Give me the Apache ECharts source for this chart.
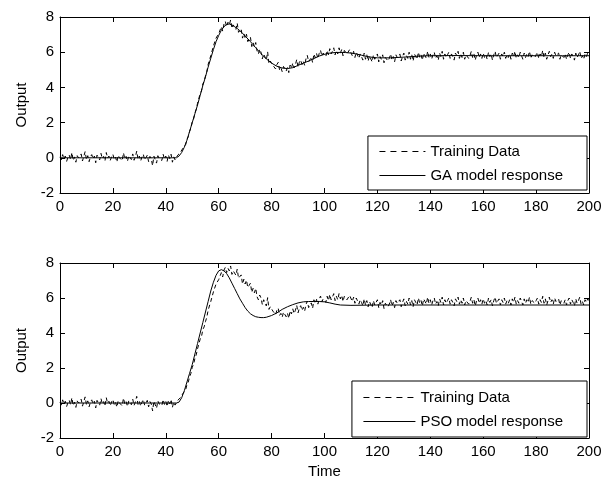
<!DOCTYPE html>
<html>
<head>
<meta charset="utf-8">
<script src="https://cdn.jsdelivr.net/npm/echarts@6/dist/echarts.min.js"></script>
<style>
html,body{margin:0;padding:0;background:#fff;}
#chart{width:613px;height:482px;}
</style>
</head>
<body>
<div id="chart"></div>
<script>
// Training data sampled every 0.5 time units, t = 0 .. 200
var trainStep = 0.5;
var trainData = [
0.05,-0.12,0.18,-0.05,0.10,-0.20,0.02,0.15,-0.10,0.30,-0.15,0.05,-0.25,0.12,0.00,-0.08,0.22,-0.18,0.08,0.35,
-0.10,0.12,-0.22,0.05,0.18,-0.06,0.10,-0.28,0.15,0.02,-0.12,0.25,-0.05,0.08,-0.18,0.30,-0.02,0.10,-0.15,0.06,
0.20,-0.10,0.04,-0.24,0.14,0.00,0.10,-0.16,0.28,-0.06,0.08,-0.20,0.12,0.02,-0.10,0.22,-0.14,0.06,0.38,-0.08,
0.10,-0.18,0.05,0.20,-0.12,0.00,0.15,-0.22,0.08,-0.05,-0.45,0.10,0.02,-0.30,0.12,-0.05,0.05,-0.15,0.20,-0.08,
0.10,-0.20,0.15,-0.05,0.20,-0.25,0.05,-0.12,-0.05,0.15,0.08,0.30,0.25,0.55,0.60,0.75,1.05,1.20,1.50,1.70,
2.05,2.20,2.55,2.75,3.10,3.20,3.65,3.80,4.20,4.35,4.65,4.90,5.30,5.35,5.80,5.90,6.35,6.35,6.80,6.80,
7.05,7.05,7.45,7.20,7.60,7.75,7.45,7.70,7.55,7.83,7.35,7.55,7.60,7.30,7.65,7.13,7.20,7.32,6.80,7.07,
6.80,7.02,6.60,6.72,6.85,6.32,6.55,6.30,6.55,6.07,5.90,6.17,6.00,5.62,5.90,5.92,5.55,6.02,5.35,5.50,
5.55,5.25,5.35,5.05,5.30,5.42,5.00,5.12,4.90,5.19,5.28,4.93,5.13,4.84,5.27,5.09,5.38,5.11,5.30,5.58,
5.15,5.43,5.56,5.29,5.47,5.25,5.63,5.82,5.45,5.58,5.72,5.41,5.90,5.68,5.92,5.65,5.93,6.11,5.78,5.95,
5.95,5.75,6.10,5.85,6.20,5.90,6.05,6.25,5.85,6.10,5.90,6.25,5.95,6.15,5.80,6.10,6.00,5.90,5.85,6.15,
6.10,5.80,6.05,5.70,6.00,5.95,5.65,5.90,5.75,5.55,5.95,5.60,5.85,5.50,5.80,5.70,5.45,5.85,5.60,5.75,
5.90,5.45,5.75,5.60,5.85,5.40,5.70,5.80,5.50,5.65,5.90,5.55,5.75,5.45,5.85,5.70,5.60,5.90,5.50,5.75,
5.95,5.55,5.80,5.65,6.00,5.60,5.85,5.50,5.90,5.75,5.60,6.00,5.70,5.85,5.55,5.95,5.80,5.65,6.05,5.70,
5.90,5.60,5.85,6.00,5.65,5.80,5.55,5.95,5.75,6.05,5.60,5.90,5.70,5.85,6.00,5.65,5.90,5.75,5.55,5.95,
5.80,6.05,5.65,5.90,5.70,6.00,5.60,5.85,5.95,5.65,5.80,6.05,5.70,5.90,5.55,5.85,6.00,5.70,5.90,5.65,
5.95,5.70,5.85,5.60,6.00,5.75,5.90,5.55,5.85,6.05,5.70,5.80,5.95,5.60,5.90,5.75,6.00,5.65,5.85,5.70,
5.90,5.60,5.95,5.75,6.05,5.65,5.85,5.70,6.00,5.80,5.60,5.95,5.70,5.90,5.75,6.05,5.65,5.85,5.95,5.70,
5.85,6.00,5.65,5.90,5.75,6.10,5.70,5.95,5.60,5.85,6.05,5.75,5.90,5.65,6.00,5.80,5.70,5.95,5.60,5.85,
5.95,5.70,5.90,5.60,5.85,6.00,5.65,5.90,5.75,5.55,5.95,5.70,5.85,6.05,5.65,5.80,5.60,5.90,5.75,5.95,
5.85
];

// GA model response
var gaTime = [0,44,45,46,47,48,49,50,51,52,53,54,55,56,57,58,59,60,61,62,63,64,65,66,67,68,69,70,
72,74,76,78,80,82,84,86,88,90,92,94,96,98,100,102,104,106,108,110,112,114,116,118,120,
125,130,135,140,150,160,170,180,190,200];
var gaValue = [0,0,0.1,0.3,0.6,1.0,1.5,2.0,2.5,3.0,3.55,4.1,4.6,5.15,5.65,6.15,6.6,6.95,7.25,7.45,7.58,7.6,7.55,7.45,7.35,7.22,7.08,6.92,
6.6,6.25,5.92,5.62,5.38,5.2,5.1,5.07,5.12,5.25,5.38,5.5,5.64,5.78,5.88,5.95,5.98,5.99,5.98,5.95,5.9,5.83,5.76,5.71,5.68,
5.68,5.72,5.77,5.8,5.81,5.8,5.8,5.8,5.8,5.8];

// PSO model response
var psoTime = [0,44,45,46,47,48,49,50,51,52,53,54,55,56,57,58,59,60,61,62,63,64,65,66,67,68,69,70,
71,72,73,74,75,76,77,78,79,80,82,84,86,88,90,92,94,96,98,100,102,104,106,110,120,200];
var psoValue = [0,0,0.05,0.3,0.7,1.2,1.7,2.2,2.8,3.4,4.0,4.6,5.2,5.8,6.4,6.9,7.3,7.55,7.62,7.55,7.4,7.15,6.85,6.55,6.25,5.95,5.7,5.45,
5.25,5.1,5.0,4.93,4.9,4.88,4.88,4.9,4.95,5.0,5.15,5.35,5.5,5.62,5.72,5.78,5.8,5.8,5.8,5.78,5.72,5.65,5.6,5.58,5.6,5.6];

var xTicks = {min: 0, max: 200, interval: 20};
var yTicks = {min: -2, max: 8, interval: 2};
var legendTop = ['Training Data', 'GA model response'];
var legendBottom = ['Training Data', 'PSO model response'];

function pairs(t, v) { return v.map(function (y, i) { return [t[i], y]; }); }
var trainPairs = trainData.map(function (y, i) { return [i * trainStep, y]; });

var FONT = '"Liberation Sans", Arial, sans-serif';
var lab = {color: '#000', fontFamily: FONT, fontSize: 15};

function xAx(gi, pos, showLabel, name) {
  return {
    type: 'value', gridIndex: gi, position: pos,
    min: xTicks.min, max: xTicks.max, interval: xTicks.interval,
    axisLine: {show: true, onZero: false, lineStyle: {color: '#000', width: 1}},
    axisTick: {show: true, inside: true, length: 5, lineStyle: {color: '#000'}},
    axisLabel: Object.assign({show: showLabel, margin: 6}, lab),
    splitLine: {show: false},
    name: name || '', nameLocation: 'middle', nameGap: 26,
    nameTextStyle: lab
  };
}
function yAx(gi, pos, showLabel, name) {
  return {
    type: 'value', gridIndex: gi, position: pos,
    min: yTicks.min, max: yTicks.max, interval: yTicks.interval,
    axisLine: {show: true, onZero: false, lineStyle: {color: '#000', width: 1}},
    axisTick: {show: true, inside: true, length: 5, lineStyle: {color: '#000'}},
    axisLabel: Object.assign({show: showLabel, margin: 6}, lab),
    splitLine: {show: false},
    name: name || '', nameLocation: 'middle', nameGap: 26,
    nameTextStyle: lab
  };
}

function legendObj(names, top, padding, iw) {
  return {
    data: [
      {name: names[0], lineStyle: {color: '#000', width: 1, type: [6, 5]}},
      {name: names[1], lineStyle: {color: '#000', width: 1, type: 'solid'}}
    ],
    orient: 'vertical', right: 26, top: top,
    backgroundColor: '#fff', borderColor: '#000', borderWidth: 1, borderRadius: 0,
    padding: padding, itemGap: 9, itemWidth: iw, itemHeight: 14,
    itemStyle: {color: 'rgba(0,0,0,0)', borderColor: 'rgba(0,0,0,0)', borderWidth: 0},
    lineStyle: {width: 1},
    textStyle: lab, selectedMode: false
  };
}

var chart = echarts.init(document.getElementById('chart'), null, {renderer: 'canvas'});
chart.setOption({
  animation: false,
  backgroundColor: '#fff',
  grid: [
    {left: 60, right: 24, top: 17, height: 176, show: false},
    {left: 60, right: 24, top: 263, height: 175, show: false}
  ],
  xAxis: [
    xAx(0, 'bottom', true), xAx(0, 'top', false),
    xAx(1, 'bottom', true, 'Time'), xAx(1, 'top', false)
  ],
  yAxis: [
    yAx(0, 'left', true, 'Output'), yAx(0, 'right', false),
    yAx(1, 'left', true, 'Output'), yAx(1, 'right', false)
  ],
  legend: [
    legendObj(legendTop, 136, [8, 24, 7, 11], 46),
    legendObj(legendBottom, 381, [9, 24, 8, 11], 52)
  ],
  series: [
    {name: 'Training Data', type: 'line', xAxisIndex: 0, yAxisIndex: 0, data: trainPairs,
     showSymbol: false, symbol: 'none', lineStyle: {color: '#000', width: 1, type: [4, 3]}, itemStyle: {color: '#000'}},
    {name: 'GA model response', type: 'line', xAxisIndex: 0, yAxisIndex: 0, data: pairs(gaTime, gaValue),
     showSymbol: false, symbol: 'none', lineStyle: {color: '#000', width: 1}, itemStyle: {color: '#000'}},
    {name: 'Training Data', type: 'line', xAxisIndex: 2, yAxisIndex: 2, data: trainPairs,
     showSymbol: false, symbol: 'none', lineStyle: {color: '#000', width: 1, type: [4, 3]}, itemStyle: {color: '#000'}},
    {name: 'PSO model response', type: 'line', xAxisIndex: 2, yAxisIndex: 2, data: pairs(psoTime, psoValue),
     showSymbol: false, symbol: 'none', lineStyle: {color: '#000', width: 1}, itemStyle: {color: '#000'}}
  ]
});
</script>
</body>
</html>
